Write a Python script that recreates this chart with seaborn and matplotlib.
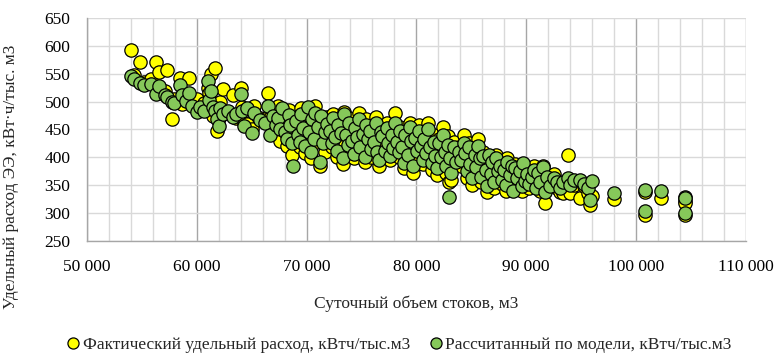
import seaborn as sns
import matplotlib.pyplot as plt
import pandas as pd
from matplotlib.ticker import MultipleLocator, FuncFormatter
from matplotlib.lines import Line2D

# ==========================================
# DATA
# ==========================================

volume = [
    54000, 54300, 54800, 55200, 55800, 56300, 56600, 57100, 57300, 57700, 57900, 58500, 58700, 59000, 59300, 59600, 60000, 60300,
    60700, 61000, 61100, 61300, 61500, 61700, 61800, 62000, 62100, 62400, 62800, 63300, 63600, 64000, 64100, 64300, 64600, 65000, 65200, 65800,
    66200, 66500, 66700, 66900, 67200, 67400, 67600, 67800, 68000, 68200, 68400, 68500, 68700, 68800, 69000, 69200, 69400, 69500, 69700, 69900,
    70100, 70200, 70400, 70500, 70700, 70800, 71000, 71200, 71300, 71500, 71700, 71900,
    72100, 72300, 72400, 72600, 72800, 72900, 73100, 73300, 73400, 73600, 73800, 73900, 74100, 74300, 74400, 74600, 74800, 74900, 75100, 75300,
    75400, 75600, 75800, 75900, 76100, 76300, 76400, 76600, 76800, 76900, 77100, 77300, 77400, 77600, 77800, 77900,
    78100, 78200, 78400, 78500, 78700, 78900, 79000, 79200, 79400, 79500, 79700, 79900, 80100, 80200, 80400, 80600, 80700, 80900, 81100, 81200,
    81400, 81600, 81700, 81900, 82100, 82200, 82400, 82600, 82700, 82900, 83000, 83100, 83200, 83400, 83600, 83900,
    84100, 84300, 84400, 84600, 84800, 84900, 85100, 85300, 85400, 85600, 85800, 85900, 86100, 86300, 86400, 86600, 86800, 86900, 87100, 87300,
    87400, 87600, 87800, 88000, 88200, 88300, 88500, 88700, 88800, 89000, 89200, 89400, 89600, 89700, 89900,
    90100, 90300, 90500, 90700, 90900, 91100, 91300, 91500, 91700, 91900, 92200, 92500, 92800, 93100, 93400, 93800, 94000, 94400, 94900, 95300,
    95600, 95800, 96000,
    98000, 100800, 100800, 102300, 104500, 104500, 104500,
]

actual = [
    593, 548, 571, 536, 540, 571, 553, 520, 557, 468, 505, 543, 495, 510, 542, 496, 505, 488,
    498, 525, 515, 550, 475, 560, 447, 470, 500, 522, 480, 512, 470, 524, 490, 462, 460, 450, 493, 470,
    468, 515, 470, 455, 445, 492, 430, 478, 462, 420, 485, 440, 404, 455, 470, 432, 418, 488, 447, 408,
    476, 438, 398, 460, 425, 492, 450, 385, 468, 430, 410, 472,
    455, 418, 478, 440, 400, 465, 430, 388, 482, 450, 415, 470, 440, 398, 460, 425, 480, 410, 448, 392,
    468, 428, 455, 400, 440, 472, 418, 385, 455, 430, 405, 462, 440, 395, 448, 420,
    479, 432, 400, 455, 420, 380, 445, 410, 462, 425, 372, 440, 405, 458, 418, 388, 445, 402, 462, 425,
    378, 440, 410, 368, 432, 395, 455, 415, 372, 438, 355, 400, 360, 428, 392, 418,
    385, 440, 405, 362, 425, 390, 350, 415, 378, 432, 395, 355, 410, 372, 338, 400, 362, 385, 345, 405,
    370, 392, 352, 380, 340, 398, 365, 378, 345, 388, 358, 372, 340, 385, 360,
    375, 345, 362, 385, 350, 368, 340, 385, 317, 360, 352, 370, 345, 338, 335, 404, 335, 350, 326, 348,
    335, 314, 330,
    325, 338, 296, 327, 321, 317, 296,
]

model = [
    546, 540, 533, 530, 532, 514, 528, 512, 509, 500, 498, 530, 512, 502, 515, 492, 481, 490,
    484, 537, 503, 520, 490, 483, 468, 456, 488, 478, 484, 473, 478, 514, 483, 456, 488, 443, 480, 467,
    462, 492, 440, 475, 458, 470, 450, 488, 445, 432, 476, 458, 425, 385, 465, 440, 428, 478, 452, 420,
    490, 445, 410, 468, 432, 480, 455, 392, 474, 425, 445, 460,
    448, 425, 470, 436, 412, 458, 444, 398, 478, 440, 422, 462, 430, 406, 452, 436, 468, 418, 442, 400,
    458, 432, 448, 415, 428, 462, 410, 395, 446, 438, 412, 452, 425, 402, 440, 416,
    462, 428, 410, 448, 418, 390, 440, 405, 455, 430, 385, 435, 412, 448, 420, 395, 432, 408, 450, 418,
    390, 428, 402, 380, 425, 400, 440, 410, 385, 422, 329, 398, 372, 418, 392, 410,
    395, 425, 408, 375, 418, 388, 362, 405, 382, 420, 398, 365, 402, 378, 348, 405, 370, 392, 355, 398,
    375, 385, 360, 378, 350, 392, 368, 385, 340, 380, 362, 375, 348, 390, 358,
    370, 352, 365, 378, 345, 372, 355, 382, 338, 365, 348, 362, 355, 345, 356, 363, 350, 360, 359, 352,
    344, 323, 358,
    335, 341, 303, 340, 329, 327, 300,
]

label_actual = "Фактический удельный расход, кВтч/тыс.м3"
label_model = "Рассчитанный по модели, кВтч/тыс.м3"

df = pd.DataFrame({"volume": volume, "actual": actual, "model": model})

# ==========================================
# PLOT
# ==========================================

sns.set_style("white")
plt.rcParams['font.family'] = ['Liberation Serif', 'DejaVu Serif']

fig = plt.figure(figsize=(7.78, 3.58), dpi=100)
ax = fig.add_axes([0.1118, 0.3277, 0.8467, 0.6212])

sns.scatterplot(data=df, x="volume", y="actual", ax=ax, color="#FFFF00",
                edgecolor="black", linewidth=0.9, s=92, zorder=3)
sns.scatterplot(data=df, x="volume", y="model", ax=ax, color="#86C85A",
                edgecolor="black", linewidth=0.9, s=92, zorder=4)

ax.set_xlim(50000, 110000)
ax.set_ylim(250, 650)
ax.xaxis.set_major_locator(MultipleLocator(10000))
ax.xaxis.set_minor_locator(MultipleLocator(2000))
ax.yaxis.set_major_locator(MultipleLocator(50))
ax.xaxis.set_major_formatter(FuncFormatter(lambda v, p: f"{int(v):,}".replace(",", " ")))

ax.grid(which="major", axis="x", color="#a6a6a6", linewidth=1.0, zorder=0)
ax.grid(which="minor", axis="x", color="#d9d9d9", linewidth=1.0, zorder=0)
ax.grid(which="major", axis="y", color="#d9d9d9", linewidth=1.0, zorder=0)
ax.set_axisbelow(True)

for side in ["top", "right"]:
    ax.spines[side].set_visible(False)
for side in ["left", "bottom"]:
    ax.spines[side].set_color("#a6a6a6")
    ax.spines[side].set_linewidth(1.0)

ax.tick_params(axis="both", which="major", direction="out", length=4,
               color="#a6a6a6", labelsize=12.5, labelcolor="black")
ax.tick_params(axis="x", which="major", pad=9)
ax.tick_params(axis="y", which="major", pad=8)
ax.tick_params(axis="both", which="minor", length=0)

ax.set_xlabel("Суточный объем стоков, м3", fontsize=12.5)
ax.xaxis.set_label_coords(0.5, -0.245)
ax.set_ylabel("Удельный расход ЭЭ, кВт·ч/тыс. м3", fontsize=12.5)
ax.yaxis.set_label_coords(-0.103, 0.286)

handles = [
    Line2D([], [], linestyle="none", marker="o", markersize=8, markerfacecolor="#FFFF00",
           markeredgecolor="black", markeredgewidth=0.9),
    Line2D([], [], linestyle="none", marker="o", markersize=8, markerfacecolor="#86C85A",
           markeredgecolor="black", markeredgewidth=0.9),
]
fig.legend(handles, [label_actual, label_model], loc="center",
           bbox_to_anchor=(0.5116, 0.0363), ncol=2, frameon=False,
           fontsize=12.5, handletextpad=0.05, columnspacing=1.0, handlelength=1.0)

plt.savefig("out.png", dpi=100)
